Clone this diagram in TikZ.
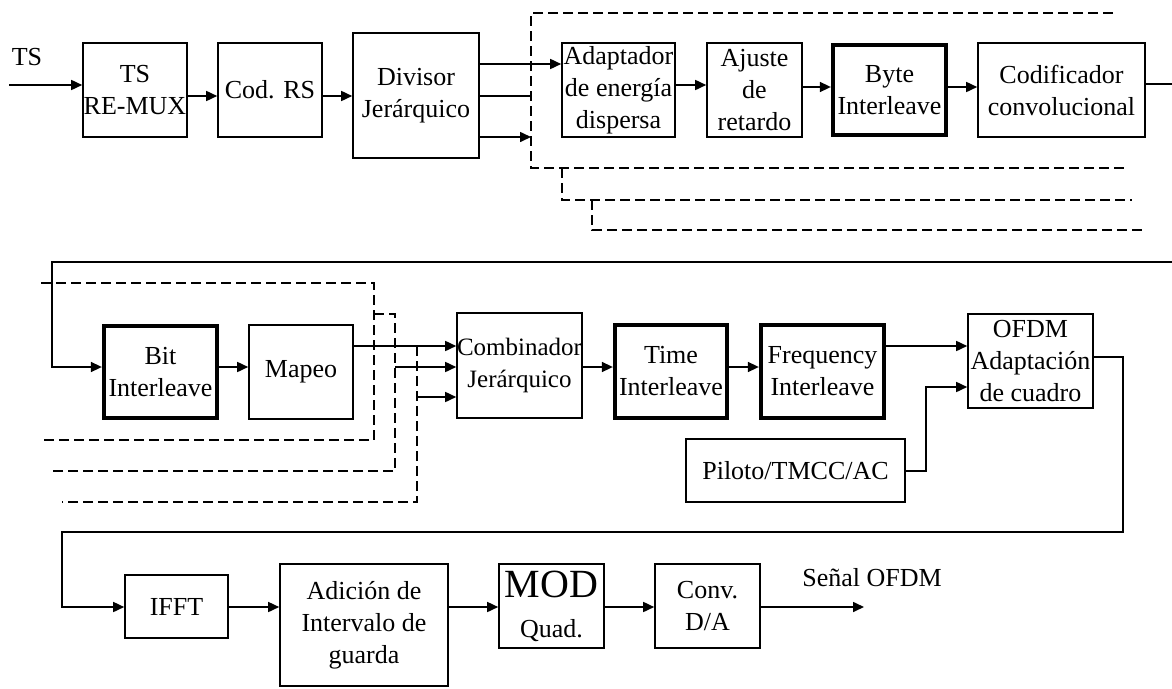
\documentclass[tikz,border=0pt]{standalone}
\usepackage{fontspec}
\setmainfont{Liberation Serif}
\usetikzlibrary{arrows.meta}
\begin{document}
\begin{tikzpicture}[x=1pt,y=-1pt,
  blk/.style={draw, line width=1.6pt, align=center, inner sep=0pt,
              font=\fontsize{26}{32}\selectfont},
  heavy/.style={blk, line width=4.3pt},
  wire/.style={line width=1.6pt},
  arr/.style={wire, -{Triangle[length=11pt,width=10pt]}},
  dsh/.style={line width=1.5pt, dash pattern=on 10pt off 5pt},
  lbl/.style={inner sep=0pt, font=\fontsize{26}{32}\selectfont}]
\useasboundingbox (0,0) rectangle (1172,688);

% ---------- first stage ----------
\node[lbl] (tslbl) at (27,57) {TS};
\node[blk, minimum width=104pt, minimum height=94pt] (remux) at (135,90) {TS\\RE-MUX};
\node[blk, minimum width=104pt, minimum height=94pt] (codrs) at (270,90) {Cod. RS};
\node[blk, minimum width=126pt, minimum height=125pt] (divisor) at (416,95.5) {Divisor\\Jerárquico};
\node[blk, minimum width=113pt, minimum height=94pt] (adapt) at (618.5,90) {Adaptador\\de energía\\dispersa};
\node[blk, minimum width=95pt, minimum height=94pt] (ajuste) at (754.5,90) {Ajuste\\de\\retardo};
\node[heavy, minimum width=113pt, minimum height=90pt] (byte) at (889.5,90) {Byte\\Interleave};
\node[blk, minimum width=167pt, minimum height=94pt] (codif) at (1061.5,90) {Codificador\\convolucional};

\coordinate (tsin) at (9,85);
\coordinate (dA) at (531,13);
\coordinate (outA) at (1172,84);

\draw[arr] (tsin) -- (tsin -| remux.west);
\draw[arr] (remux.east |- 0,96) -- (codrs.west |- 0,96);
\draw[arr] (codrs.east |- 0,96) -- (divisor.west |- 0,96);
\draw[arr] (divisor.east |- 0,64) -- (adapt.west |- 0,64);
\draw[wire] (divisor.east |- 0,96) -- (dA |- 0,96);
\draw[arr] (divisor.east |- 0,137) -- (dA |- 0,137);
\draw[arr] (adapt.east |- 0,85) -- (ajuste.west |- 0,85);
\draw[arr] (ajuste.east |- 0,87) -- (byte.west |- 0,87);
\draw[arr] (byte.east |- 0,87) -- (codif.west |- 0,87);
\draw[wire] (codif.east |- outA) -- (outA);

% parallel hierarchical layers
\draw[dsh] (1113,13) -- (dA) -- (531,168) -- (1125,168);
\draw[dsh] (562,168) -- (562,200) -- (1132,200);
\draw[dsh] (592,200) -- (592,230) -- (1145,230);

% ---------- second stage ----------
\node[heavy, minimum width=113pt, minimum height=92pt] (bit) at (160.5,372) {Bit\\Interleave};
\node[blk, minimum width=104pt, minimum height=94pt] (mapeo) at (301,372) {Mapeo};
\node[blk, minimum width=125pt, minimum height=105pt, font=\fontsize{25}{32}\selectfont] (comb) at (519.5,365.5) {Combinador\\Jerárquico};
\node[heavy, minimum width=112pt, minimum height=93pt] (time) at (671,371.5) {Time\\Interleave};
\node[heavy, minimum width=123pt, minimum height=93pt] (freq) at (822.5,371.5) {Frequency\\Interleave};
\node[blk, minimum width=125pt, minimum height=94pt] (ofdm) at (1030.5,361) {OFDM\\Adaptación\\de cuadro};
\node[blk, minimum width=219pt, minimum height=63pt] (piloto) at (795.5,470.5) {Piloto/TMCC/AC};

\coordinate (inB) at (1172,262);
\coordinate (bendB) at (52,262);
\coordinate (s2) at (395,367);
\coordinate (s3) at (417,397);
\coordinate (pk) at (926,471);

\draw[dsh] (41,283) -- (374,283) -- (374,440) -- (41,440);
\draw[dsh] (374,314) -- (395,314) -- (395,471) -- (52,471);
\draw[dsh] (417,346) -- (417,502) -- (62,502);

\draw[arr] (inB) -- (bendB) |- (bit.west |- 0,367);
\draw[arr] (bit.east |- 0,367) -- (mapeo.west |- 0,367);
\draw[arr] (mapeo.east |- 0,346) -- (comb.west |- 0,346);
\draw[arr] (s2) -- (s2 -| comb.west);
\draw[arr] (s3) -- (s3 -| comb.west);
\draw[arr] (comb.east |- 0,367) -- (time.west |- 0,367);
\draw[arr] (time.east |- 0,367) -- (freq.west |- 0,367);
\draw[arr] (freq.east |- 0,346) -- (ofdm.west |- 0,346);
\draw[arr] (piloto.east |- pk) -- (pk) |- (ofdm.west |- 0,387);

% ---------- third stage ----------
\node[blk, minimum width=103pt, minimum height=63pt] (ifft) at (176.5,606.5) {IFFT};
\node[blk, minimum width=168pt, minimum height=122pt] (adicion) at (364,625) {Adición de\\Intervalo de\\guarda};
\node[blk, minimum width=105pt, minimum height=84pt] (mod) at (551.5,606) {{\fontsize{40}{40}\selectfont MOD}\\[8pt]Quad.};
\node[blk, minimum width=105pt, minimum height=84pt] (conv) at (707.5,606) {Conv.\\D/A};
\node[lbl] (senal) at (872,578) {Señal OFDM};

\coordinate (r1) at (1123,532);
\coordinate (r2) at (62,532);
\coordinate (sout) at (864,607);

\draw[arr] (ofdm.east |- 0,357) -| (r1) -- (r2) |- (ifft.west |- 0,607);
\draw[arr] (ifft.east |- 0,607) -- (adicion.west |- 0,607);
\draw[arr] (adicion.east |- 0,607) -- (mod.west |- 0,607);
\draw[arr] (mod.east |- 0,607) -- (conv.west |- 0,607);
\draw[arr] (conv.east |- sout) -- (sout);
\end{tikzpicture}
\end{document}
